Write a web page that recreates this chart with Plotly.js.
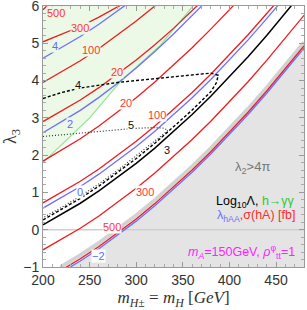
<!DOCTYPE html>
<html>
<head>
<meta charset="utf-8">
<script src="https://cdn.plot.ly/plotly-3.0.1.min.js"></script>
<style>html,body{margin:0;padding:0;background:#fff;}#chart{width:307px;height:310px;}</style>
</head>
<body>
<div id="chart"></div>
<script>
// ---- data (x = m_H [GeV], y = lambda_3) ----
const greenX = [200, 225, 250, 283, 326, 361];
const greenY = [1.80, 2.40, 3.00, 3.97, 4.95, 6.00];

const grayX = [218.7, 240, 260, 280, 300, 320, 340, 360, 380, 400, 420, 440, 460, 480];
const grayY = [-1.00, -0.68, -0.35, 0.01, 0.39, 0.80, 1.24, 1.70, 2.19, 2.71, 3.25, 3.82, 4.41, 5.03];

// sigma(hA) [fb] contours (red)
const r500aX = [200, 206];                 const r500aY = [5.90, 6.05];
const r300aX = [200, 220, 240, 260, 283];  const r300aY = [5.04, 5.24, 5.45, 5.70, 6.02];
const r100aX = [200, 220, 240, 260, 280, 300, 322];
const r100aY = [3.95, 4.23, 4.53, 4.86, 5.22, 5.60, 6.04];
const r20aX = [200, 220, 240, 260, 280, 300, 320, 340, 366];
const r20aY = [2.90, 3.18, 3.48, 3.81, 4.17, 4.55, 4.96, 5.40, 6.02];
const r20bX = [200, 220, 240, 260, 280, 300, 320, 340, 360, 380, 400, 405];
const r20bY = [1.84, 2.13, 2.44, 2.78, 3.15, 3.54, 3.96, 4.41, 4.88, 5.38, 5.90, 6.03];
const r100bX = [200, 220, 240, 260, 280, 300, 320, 340, 360, 380, 400, 420, 440, 450];
const r100bY = [0.72, 1.00, 1.30, 1.63, 1.99, 2.37, 2.78, 3.22, 3.68, 4.17, 4.69, 5.23, 5.80, 6.08];
const r300bX = [200, 220, 240, 260, 280, 300, 320, 340, 360, 380, 400, 420, 440, 460, 480];
const r300bY = [-0.54, -0.26, 0.04, 0.37, 0.73, 1.11, 1.52, 1.96, 2.42, 2.91, 3.43, 3.97, 4.54, 5.13, 5.75];
const r500bX = [224, 240, 260, 280, 300, 320, 340, 360, 380, 400, 420, 440, 460, 480];
const r500bY = [-1.02, -0.78, -0.45, -0.09, 0.29, 0.70, 1.14, 1.60, 2.09, 2.61, 3.15, 3.72, 4.31, 4.93];

// lambda_hAA contours (blue)
const b4X = [200, 220, 240, 260, 280, 290];
const b4Y = [4.60, 4.88, 5.18, 5.51, 5.87, 6.05];
const b2X = [200, 220, 240, 260, 280, 300, 320, 340, 360, 371];
const b2Y = [2.60, 2.89, 3.20, 3.55, 3.93, 4.34, 4.78, 5.25, 5.74, 6.02];
const b0X = [200, 220, 240, 260, 280, 300, 320, 340, 360, 380, 400, 420, 440, 460];
const b0Y = [0.58, 0.86, 1.16, 1.49, 1.85, 2.23, 2.64, 3.08, 3.54, 4.03, 4.55, 5.09, 5.66, 6.25];
const bm2X = [228, 240, 260, 280, 300, 320, 340, 360, 380, 400, 420, 440, 460, 480];
const bm2Y = [-1.02, -0.84, -0.51, -0.15, 0.23, 0.64, 1.08, 1.54, 2.03, 2.55, 3.09, 3.66, 4.25, 4.87];

// Log10 Lambda contours (black)
const k3X = [200, 220, 240, 260, 280, 300, 320, 340, 360, 380, 400, 420, 440, 460, 480];
const k3Y = [0.13, 0.41, 0.71, 1.04, 1.40, 1.78, 2.19, 2.63, 3.09, 3.58, 4.10, 4.64, 5.21, 5.80, 6.42];
const k4X = [200, 220, 240, 260, 280, 300, 320, 340, 360, 380, 388, 386, 380, 370, 360, 340, 320, 300, 280, 260, 240, 220, 200];
const k4Y = [3.52, 3.68, 3.80, 3.88, 3.95, 4.00, 4.05, 4.10, 4.14, 4.20, 4.14, 3.94, 3.70, 3.45, 3.21, 2.76, 2.32, 1.91, 1.53, 1.17, 0.84, 0.54, 0.26];
const k5X = [200, 220, 240, 260, 280, 300, 320, 330, 334, 330, 320, 300, 280, 260, 240, 220, 200];
const k5Y = [2.50, 2.55, 2.58, 2.63, 2.68, 2.72, 2.74, 2.72, 2.66, 2.58, 2.38, 1.97, 1.59, 1.23, 0.90, 0.60, 0.32];

// contour labels: text, x, y, color group
const labText = ['500', '300', '4', '100', '20', '4', '2', '5', '20', '100', '3', '0', '300', '500', '\u22122'];
const labX = [214, 240, 212.5, 251, 279.5, 238, 228.5, 294.5, 289, 322, 333, 240, 309.5, 274.5, 259.5];
const labY = [5.82, 5.41, 4.93, 4.82, 4.24, 3.88, 2.83, 2.81, 3.40, 3.07, 2.14, 1.00, 1.02, 0.07, -0.70];
const labKind = ['r', 'r', 'b', 'r', 'r', 'k', 'b', 'k', 'r', 'r', 'k', 'b', 'r', 'r', 'b'];
const labInGreen = [1, 1, 1, 1, 1, 1, 1, 0, 0, 0, 0, 0, 0, 0, 0];

const xTicks = [200, 250, 300, 350, 400, 450];
const yTicks = [-1, 0, 1, 2, 3, 4, 5, 6];

// ---- styles ----
const RED = '#ee1c1c', BLUE = '#6f6fff', BLACK = '#000000', GREEN = '#8fe88f';
const LABCOL = {r: '#ff3535', b: '#5c6cff', k: '#111111'};
const GREENFILL = '#ecf9e6', GRAYFILL = '#e4e4e4';

function line(x, y, color, dash, width) {
  return {x: x, y: y, type: 'scatter', mode: 'lines', hoverinfo: 'skip',
          line: {color: color, width: width || 1.3, dash: dash || 'solid'}};
}

const traces = [];
traces.push({x: greenX.concat([greenX[0]]), y: greenY.concat([greenY[greenY.length - 1]]),
             type: 'scatter', mode: 'lines', fill: 'toself', fillcolor: GREENFILL,
             line: {width: 0}, hoverinfo: 'skip'});
traces.push({x: grayX.concat([grayX[grayX.length - 1], grayX[0]]),
             y: grayY.concat([grayY[0], grayY[0]]),
             type: 'scatter', mode: 'lines', fill: 'toself', fillcolor: GRAYFILL,
             line: {width: 0}, hoverinfo: 'skip'});
traces.push(line(grayX, grayY, '#d2d2d2', 'solid', 3.5));
traces.push(line([200, 480], [0, 0], '#cfcfcf', 'solid', 1.5));
traces.push(line(greenX, greenY, GREEN, 'solid', 1.2));
[[r500aX, r500aY], [r300aX, r300aY], [r100aX, r100aY], [r20aX, r20aY], [r20bX, r20bY],
 [r100bX, r100bY], [r300bX, r300bY], [r500bX, r500bY]].forEach(p => traces.push(line(p[0], p[1], RED)));
[[b4X, b4Y], [b2X, b2Y], [b0X, b0Y], [bm2X, bm2Y]].forEach(p => traces.push(line(p[0], p[1], BLUE)));
traces.push(line(k3X, k3Y, BLACK, 'solid', 1.5));
traces.push(line(k4X, k4Y, BLACK, '3px,2px', 1.4));
traces.push(line(k5X, k5Y, '#333333', '1px,2px', 1.2));

const tf = 'Liberation Sans, Arial, sans-serif';
const annotations = labText.map((t, i) => ({
  x: labX[i], y: labY[i], xref: 'x', yref: 'y', text: t, showarrow: false,
  xanchor: 'center', yanchor: 'middle',
  font: {family: tf, size: 11, color: LABCOL[labKind[i]]},
  bgcolor: labInGreen[i] ? GREENFILL : '#ffffff', borderpad: 0
}));
annotations.push({xref: 'paper', yref: 'paper', x: 0.803, y: 0.383, xanchor: 'center', yanchor: 'middle', showarrow: false,
  text: '\u03bb<sub>2</sub>>4\u03c0', font: {family: tf, size: 13, color: '#777777'}});
annotations.push({xref: 'paper', yref: 'paper', x: 0.975, y: 0.249, xanchor: 'right', yanchor: 'middle', showarrow: false,
  text: 'Log<sub>10</sub>\u039b, <span style="color:#2ec82e">h\u2192\u03b3\u03b3</span>',
  font: {family: tf, size: 12.5, color: '#000000'}});
annotations.push({xref: 'paper', yref: 'paper', x: 0.975, y: 0.195, xanchor: 'right', yanchor: 'middle', showarrow: false,
  text: '<span style="color:#6f6fff">\u03bb<sub>hAA</sub></span>,<span style="color:#ff2a2a">\u03c3(hA) [fb]</span>',
  font: {family: tf, size: 12.5, color: '#ff2a2a'}});
annotations.push({xref: 'paper', yref: 'paper', x: 0.975, y: 0.057, xanchor: 'right', yanchor: 'middle', showarrow: false,
  text: '<i>m<sub>A</sub></i>=150GeV, <i>\u03c1</i><sup>\u03c6</sup><sub>tt</sub>=1',
  font: {family: tf, size: 12.5, color: '#ff22ff'}});

const axisCommon = {
  showgrid: false, zeroline: false, showline: true, linecolor: '#999999', linewidth: 1,
  mirror: 'ticks', ticks: 'inside', ticklen: 5, tickcolor: '#999999',
  ticklabeloverflow: 'allow',
  tickfont: {family: tf, size: 14, color: '#333333'}
};

const layout = {
  width: 307, height: 310,
  margin: {l: 43, r: 3, t: 6, b: 43},
  paper_bgcolor: '#ffffff', plot_bgcolor: '#ffffff',
  showlegend: false,
  xaxis: Object.assign({}, axisCommon, {
    range: [200, 480], tickvals: xTicks, ticktext: xTicks.map(String),
    minor: {dtick: 10, ticks: 'inside', ticklen: 3, tickcolor: '#aaaaaa'},
    title: {text: '<i>m</i><sub><i>H</i>\u00b1</sub> = <i>m<sub>H</sub></i> [<i>GeV</i>]',
            font: {family: 'Liberation Serif, DejaVu Serif, serif', size: 17, color: '#333333'}, standoff: 6}
  }),
  yaxis: Object.assign({}, axisCommon, {
    range: [-1, 6], tickvals: yTicks, ticktext: yTicks.map(v => v < 0 ? '\u2212' + Math.abs(v) : String(v)),
    minor: {dtick: 0.2, ticks: 'inside', ticklen: 3, tickcolor: '#aaaaaa'},
    title: {text: '\u03bb<sub>3</sub>', font: {family: 'Liberation Serif, DejaVu Serif, serif', size: 18, color: '#333333'}, standoff: 8}
  }),
  annotations: annotations
};

Plotly.newPlot('chart', traces, layout, {displayModeBar: false, staticPlot: true});
</script>
</body>
</html>
